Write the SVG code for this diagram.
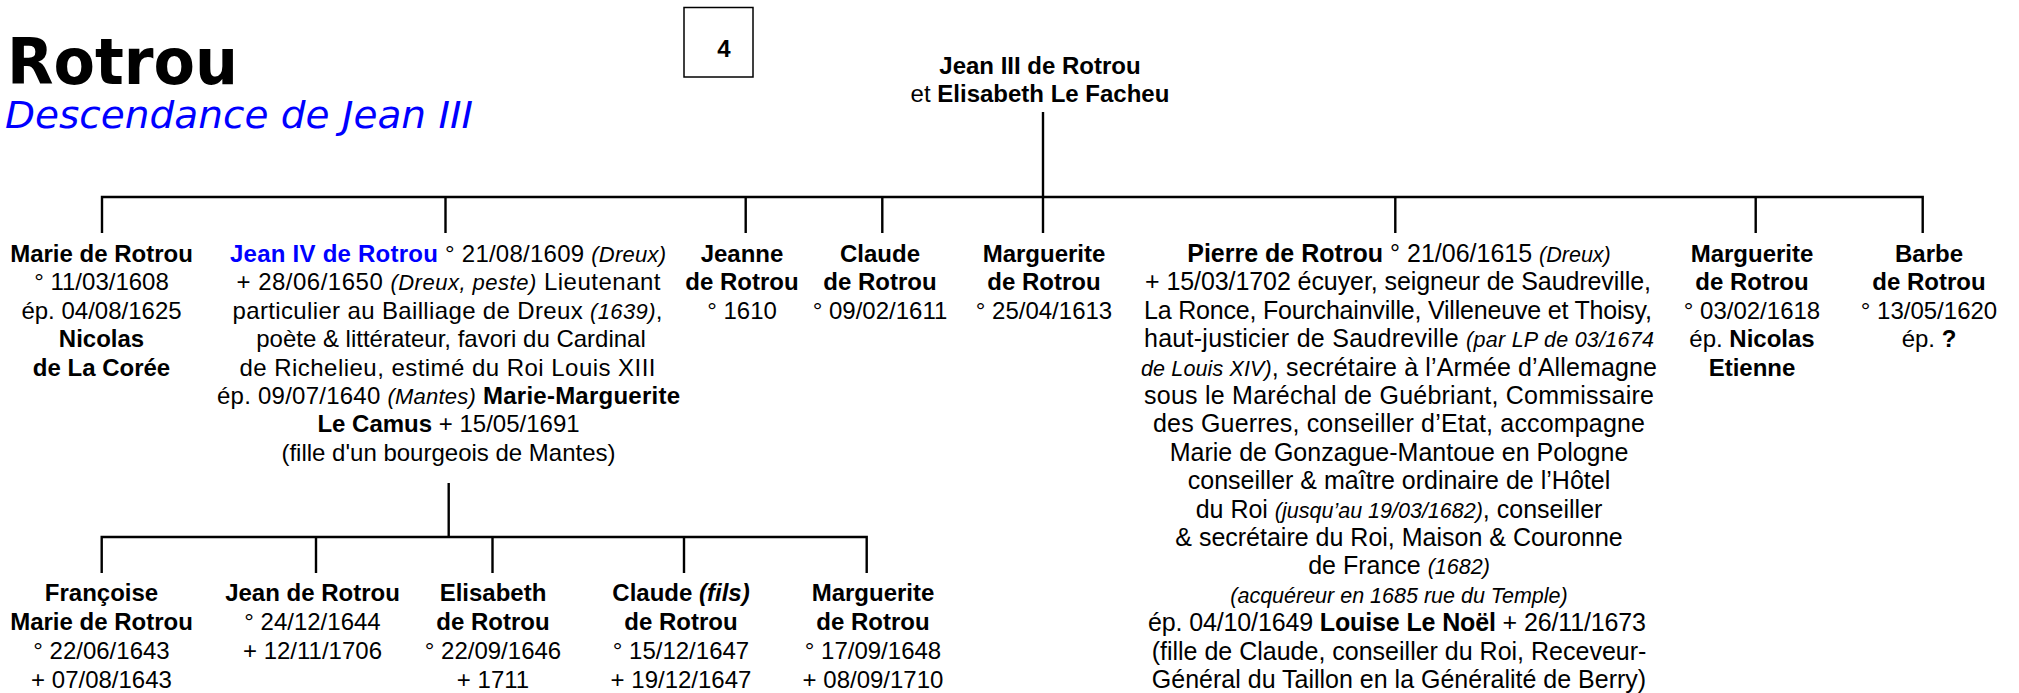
<svg xmlns="http://www.w3.org/2000/svg" width="2019" height="693" viewBox="0 0 2019 693">
<style>
.t{font-family:"Liberation Sans",Arial,sans-serif;font-size:24px;text-anchor:middle;fill:#000}
.p{font-size:25px}
.b{font-weight:bold}
.i{font-style:italic;font-size:22px}
.p .i,.i.p{font-size:21.5px}
.ln{stroke:#000;stroke-width:2.4;fill:none}
</style>
<rect width="2019" height="693" fill="#fff"/>
<g id="title">
<text x="7" y="84" font-family="DejaVu Sans,sans-serif" font-weight="bold" font-size="64" textLength="231" lengthAdjust="spacingAndGlyphs">Rotrou</text>
<text x="5" y="128" font-family="DejaVu Sans,sans-serif" font-style="italic" font-size="38" fill="#0000FF" textLength="468" lengthAdjust="spacingAndGlyphs">Descendance de Jean III</text>
</g>
<g id="page-number">
<rect x="684" y="7.5" width="69" height="69.5" fill="#fff" stroke="#000" stroke-width="1.5"/>
<text class="t b" x="724" y="57">4</text>
</g>
<g id="connectors">
<path class="ln" d="M1043 112 V233"/>
<path class="ln" d="M102 233 V197 H1922.7 V233"/>
<path class="ln" d="M445.5 197 V233 M745.7 197 V233 M882.3 197 V233 M1395.3 197 V233 M1755.7 197 V233"/>
<path class="ln" d="M448.7 483 V537"/>
<path class="ln" d="M101.7 573 V537 H866.7 V573"/>
<path class="ln" d="M316 537 V573 M492.5 537 V573 M684 537 V573"/>
</g>
<g id="jean-iii">
<text class="t" x="1040" y="73.5"><tspan class="b">Jean III de Rotrou</tspan></text>
<text class="t" x="1040" y="101.5">et <tspan class="b">Elisabeth Le Facheu</tspan></text>
</g>
<g id="marie">
<text class="t" x="101.5" y="262"><tspan class="b">Marie de Rotrou</tspan></text>
<text class="t" x="101.5" y="290.4">° 11/03/1608</text>
<text class="t" x="101.5" y="318.8">ép. 04/08/1625</text>
<text class="t b" x="101.5" y="347.2">Nicolas</text>
<text class="t b" x="101.5" y="375.6">de La Corée</text>
</g>
<g id="jean-iv">
<text class="t" x="448" y="262" textLength="436"><tspan class="b" fill="#0000FF">Jean IV de Rotrou</tspan> ° 21/08/1609 <tspan class="i">(Dreux)</tspan></text>
<text class="t" x="448.5" y="290.4" textLength="424">+ 28/06/1650 <tspan class="i">(Dreux, peste)</tspan> Lieutenant</text>
<text class="t" x="447.5" y="318.8" textLength="430">particulier au Bailliage de Dreux <tspan class="i">(1639)</tspan>,</text>
<text class="t" x="451" y="347.2">poète &amp; littérateur, favori du Cardinal</text>
<text class="t" x="447.5" y="375.6" textLength="416">de Richelieu, estimé du Roi Louis XIII</text>
<text class="t" x="448.5" y="404" textLength="463">ép. 09/07/1640 <tspan class="i">(Mantes)</tspan> <tspan class="b">Marie-Marguerite</tspan></text>
<text class="t" x="448.5" y="432.4"><tspan class="b">Le Camus</tspan> + 15/05/1691</text>
<text class="t" x="448.5" y="460.8">(fille d'un bourgeois de Mantes)</text>
</g>
<g id="jeanne">
<text class="t b" x="742" y="262">Jeanne</text>
<text class="t b" x="742" y="290.4">de Rotrou</text>
<text class="t" x="742" y="318.8">° 1610</text>
</g>
<g id="claude">
<text class="t b" x="880" y="262">Claude</text>
<text class="t b" x="880" y="290.4">de Rotrou</text>
<text class="t" x="880" y="318.8">° 09/02/1611</text>
</g>
<g id="marguerite-1613">
<text class="t b" x="1044" y="262">Marguerite</text>
<text class="t b" x="1044" y="290.4">de Rotrou</text>
<text class="t" x="1044" y="318.8">° 25/04/1613</text>
</g>
<g id="pierre">
<text class="t p" x="1399" y="262"><tspan class="b">Pierre de Rotrou</tspan> ° 21/06/1615 <tspan class="i">(Dreux)</tspan></text>
<text class="t p" x="1398" y="290.4" textLength="506">+ 15/03/1702 écuyer, seigneur de Saudreville,</text>
<text class="t p" x="1398" y="318.8" textLength="508">La Ronce, Fourchainville, Villeneuve et Thoisy,</text>
<text class="t p" x="1399" y="347.2" textLength="510">haut-justicier de Saudreville <tspan class="i">(par LP de 03/1674</tspan></text>
<text class="t p" x="1399" y="375.6" textLength="516"><tspan class="i">de Louis XIV)</tspan>, secrétaire à l’Armée d’Allemagne</text>
<text class="t p" x="1399" y="404" textLength="510">sous le Maréchal de Guébriant, Commissaire</text>
<text class="t p" x="1399" y="432.4" textLength="492">des Guerres, conseiller d’Etat, accompagne</text>
<text class="t p" x="1399" y="460.8">Marie de Gonzague-Mantoue en Pologne</text>
<text class="t p" x="1399" y="489.2">conseiller &amp; maître ordinaire de l’Hôtel</text>
<text class="t p" x="1399" y="517.6">du Roi <tspan class="i">(jusqu’au 19/03/1682)</tspan>, conseiller</text>
<text class="t p" x="1399" y="546">&amp; secrétaire du Roi, Maison &amp; Couronne</text>
<text class="t p" x="1399" y="574.4">de France <tspan class="i">(1682)</tspan></text>
<text class="t i p" x="1399" y="602.8">(acquéreur en 1685 rue du Temple)</text>
<text class="t p" x="1397" y="631.2" textLength="498">ép. 04/10/1649 <tspan class="b">Louise Le Noël</tspan> + 26/11/1673</text>
<text class="t p" x="1399" y="659.6">(fille de Claude, conseiller du Roi, Receveur-</text>
<text class="t p" x="1399" y="688">Général du Taillon en la Généralité de Berry)</text>
</g>
<g id="marguerite-1618">
<text class="t b" x="1752" y="262">Marguerite</text>
<text class="t b" x="1752" y="290.4">de Rotrou</text>
<text class="t" x="1752" y="318.8">° 03/02/1618</text>
<text class="t" x="1752" y="347.2">ép. <tspan class="b">Nicolas</tspan></text>
<text class="t b" x="1752" y="375.6">Etienne</text>
</g>
<g id="barbe">
<text class="t b" x="1929" y="262">Barbe</text>
<text class="t b" x="1929" y="290.4">de Rotrou</text>
<text class="t" x="1929" y="318.8">° 13/05/1620</text>
<text class="t" x="1929" y="347.2">ép. <tspan class="b">?</tspan></text>
</g>
<g id="francoise">
<text class="t b" x="101.5" y="601">Françoise</text>
<text class="t b" x="101.5" y="630">Marie de Rotrou</text>
<text class="t" x="101.5" y="659">° 22/06/1643</text>
<text class="t" x="101.5" y="688">+ 07/08/1643</text>
</g>
<g id="jean">
<text class="t b" x="312.5" y="601">Jean de Rotrou</text>
<text class="t" x="312.5" y="630">° 24/12/1644</text>
<text class="t" x="312.5" y="659">+ 12/11/1706</text>
</g>
<g id="elisabeth">
<text class="t b" x="493" y="601">Elisabeth</text>
<text class="t b" x="493" y="630">de Rotrou</text>
<text class="t" x="493" y="659">° 22/09/1646</text>
<text class="t" x="493" y="688">+ 1711</text>
</g>
<g id="claude-fils">
<text class="t b" x="681" y="601">Claude <tspan font-style="italic">(fils)</tspan></text>
<text class="t b" x="681" y="630">de Rotrou</text>
<text class="t" x="681" y="659">° 15/12/1647</text>
<text class="t" x="681" y="688">+ 19/12/1647</text>
</g>
<g id="marguerite-1648">
<text class="t b" x="873" y="601">Marguerite</text>
<text class="t b" x="873" y="630">de Rotrou</text>
<text class="t" x="873" y="659">° 17/09/1648</text>
<text class="t" x="873" y="688">+ 08/09/1710</text>
</g>
</svg>
